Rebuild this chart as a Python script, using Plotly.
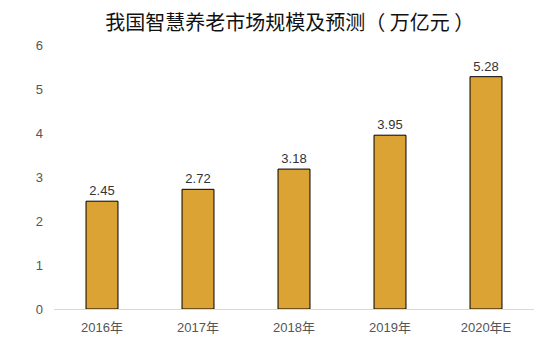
import plotly.graph_objects as go

years = ["2016年", "2017年", "2018年", "2019年", "2020年E"]
values = [2.45, 2.72, 3.18, 3.95, 5.28]
labels = ["2.45", "2.72", "3.18", "3.95", "5.28"]

fig = go.Figure(go.Bar(
    x=years, y=values, text=labels, textposition="outside",
    textfont=dict(size=13, color="#333333"),
    marker=dict(color="#DBA234", line=dict(color="#000000", width=1)),
    width=0.333, cliponaxis=False,
))
fig.update_layout(
    width=550, height=351,
    margin=dict(l=54, r=16, t=45, b=42),
    paper_bgcolor="white", plot_bgcolor="white",
    font=dict(family="Liberation Sans, Noto Sans CJK SC, Arial", color="#555555", size=13),
    title=dict(text="我国智慧养老市场规模及预测（ 万亿元 ）", x=0.527, xanchor="center", y=0.935, yanchor="middle",
               font=dict(size=20, color="#111111", family="Noto Sans CJK SC, Liberation Sans")),
    showlegend=False,
    bargap=0.667,
)
fig.update_yaxes(range=[0, 6], dtick=1, showgrid=False, zeroline=False, showline=False,
                 ticks="", tickfont=dict(size=13, color="#555555"), ticklabelstandoff=10)
fig.update_xaxes(showline=True, linecolor="#d9d9d9", linewidth=1, ticks="",
                 tickfont=dict(size=13, color="#555555"), ticklabelstandoff=6)
fig.write_html("out.html")
